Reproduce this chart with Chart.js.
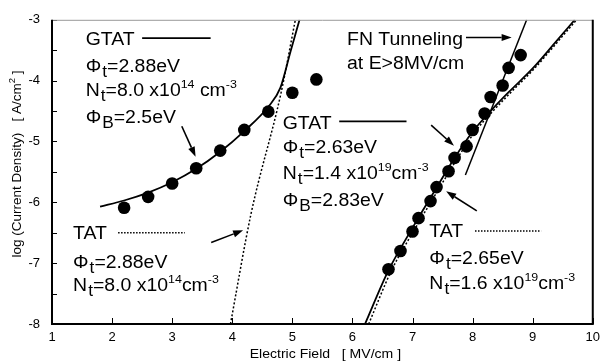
<!DOCTYPE html>
<html>
<head>
<meta charset="utf-8">
<script src="https://cdn.jsdelivr.net/npm/chart.js@4.4.0/dist/chart.umd.min.js"></script>
<style>
  body { margin: 0; background: #fff; }
  #wrap { width: 606px; height: 362px; }
</style>
</head>
<body>
<div id="wrap"><canvas id="jeChart" width="606" height="362"></canvas></div>
<script>
// tick labels
const xTicks = [1, 2, 3, 4, 5, 6, 7, 8, 9, 10];
const yTicks = [-8, -7, -6, -5, -4, -3];

// measured points, low field branch
const lowE = [2.2, 2.6, 3.0, 3.4, 3.8, 4.2, 4.6, 5.0, 5.4];
const lowJ = [-6.09, -5.91, -5.69, -5.44, -5.15, -4.81, -4.51, -4.20, -3.98];

// measured points, high field branch
const highE = [6.6, 6.8, 7.0, 7.1, 7.3, 7.4, 7.6, 7.7, 7.9, 8.0, 8.2, 8.3, 8.5, 8.6, 8.8];
const highJ = [-7.10, -6.80, -6.48, -6.26, -5.98, -5.75, -5.49, -5.27, -5.08, -4.81, -4.54, -4.27, -4.08, -3.79, -3.58];

// GTAT fit, left
const gtatLowE = [1.8, 2.2, 2.6, 3.0, 3.4, 3.8, 4.2, 4.6, 4.8, 4.97, 5.12];
const gtatLowJ = [-6.07, -5.97, -5.84, -5.67, -5.45, -5.17, -4.83, -4.43, -4.12, -3.52, -3.0];

// TAT fit, left
const tatLowE = [3.97, 4.31, 4.81, 5.05];
const tatLowJ = [-8.0, -6.2, -4.21, -3.0];

// GTAT fit, right
const gtatHighE = [6.21, 6.6, 7.0, 7.4, 7.72, 8.0, 8.3, 8.6, 9.0, 9.37, 9.70];
const gtatHighJ = [-8.0, -7.12, -6.42, -5.76, -5.24, -4.84, -4.50, -4.19, -3.80, -3.38, -3.0];

// TAT fit, right
const tatHighE = [6.27, 6.65, 7.05, 7.45, 7.77, 8.04, 8.34, 8.64, 9.03, 9.4, 9.73];
const tatHighJ = [-8.0, -7.12, -6.42, -5.76, -5.24, -4.84, -4.50, -4.19, -3.80, -3.38, -3.0];

// FN tunneling line
const fnE = [7.88, 8.90];
const fnJ = [-5.55, -3.0];

function pts(xs, ys) {
    return xs.map((x, i) => ({ x: x, y: ys[i] }));
}

// annotation text blocks (anchor = left edge / cap centre, data coords)
const notes = [
    { x: 1.56, y: -3.30, parts: [['GTAT', 'n']] },
    { x: 1.56, y: -3.75, parts: [['\u03A6', 'n'], ['t', 'sub'], ['=2.88eV', 'n']] },
    { x: 1.56, y: -4.15, parts: [['N', 'n'], ['t', 'sub'], ['=8.0 x10', 'n'], ['14', 'sup'], [' cm', 'n'], ['-3', 'sup']] },
    { x: 1.56, y: -4.59, parts: [['\u03A6', 'n'], ['B', 'sub'], ['=2.5eV', 'n']] },

    { x: 1.35, y: -6.50, parts: [['TAT', 'n']] },
    { x: 1.35, y: -6.97, parts: [['\u03A6', 'n'], ['t', 'sub'], ['=2.88eV', 'n']] },
    { x: 1.35, y: -7.35, parts: [['N', 'n'], ['t', 'sub'], ['=8.0 x10', 'n'], ['14', 'sup'], ['cm', 'n'], ['-3', 'sup']] },

    { x: 4.84, y: -4.68, parts: [['GTAT', 'n']] },
    { x: 4.84, y: -5.09, parts: [['\u03A6', 'n'], ['t', 'sub'], ['=2.63eV', 'n']] },
    { x: 4.84, y: -5.51, parts: [['N', 'n'], ['t', 'sub'], ['=1.4 x10', 'n'], ['19', 'sup'], ['cm', 'n'], ['-3', 'sup']] },
    { x: 4.84, y: -5.96, parts: [['\u03A6', 'n'], ['B', 'sub'], ['=2.83eV', 'n']] },

    { x: 5.91, y: -3.30, parts: [['FN Tunneling', 'n']] },
    { x: 5.91, y: -3.70, parts: [['at E>8MV/cm', 'n']] },

    { x: 7.28, y: -6.47, parts: [['TAT', 'n']] },
    { x: 7.28, y: -6.90, parts: [['\u03A6', 'n'], ['t', 'sub'], ['=2.65eV', 'n']] },
    { x: 7.28, y: -7.32, parts: [['N', 'n'], ['t', 'sub'], ['=1.6 x10', 'n'], ['19', 'sup'], ['cm', 'n'], ['-3', 'sup']] }
];

// legend sample lines [x0, x1, y, dashed]
const keyLines = [
    [2.50, 3.64, -3.30, false],
    [2.10, 3.21, -6.50, true],
    [5.78, 6.90, -4.67, false],
    [8.04, 9.14, -6.47, true]
];

// arrows [fromX, fromY, toX, toY]
const arrows = [
    [3.16, -4.75, 3.39, -5.25],
    [3.65, -6.66, 4.18, -6.46],
    [7.89, -3.29, 8.65, -3.29],
    [7.31, -4.73, 7.69, -5.07],
    [8.07, -6.14, 7.56, -5.82]
];

const FONT = '"Liberation Sans", Arial, sans-serif';
const STRETCH = 1.08;

function drawRich(ctx, x, y, parts) {
    ctx.save();
    ctx.translate(x, y);
    ctx.scale(STRETCH, 1);
    ctx.textBaseline = 'alphabetic';
    ctx.textAlign = 'left';
    let cx = 0;
    parts.forEach(([s, kind]) => {
        let size = 18, dy = 0;
        if (kind === 'sub') { size = 16; dy = 5; cx += 1; }
        if (kind === 'sup') { size = 11.5; dy = -8; }
        ctx.font = size + 'px ' + FONT;
        ctx.fillText(s, cx, dy);
        cx += ctx.measureText(s).width;
    });
    ctx.restore();
}

function drawArrow(ctx, x0, y0, x1, y1) {
    const a = Math.atan2(y1 - y0, x1 - x0);
    const len = 10, w = 3.5;
    const bx = x1 - len * Math.cos(a), by = y1 - len * Math.sin(a);
    ctx.beginPath();
    ctx.moveTo(x0, y0);
    ctx.lineTo(bx, by);
    ctx.lineWidth = 1.6;
    ctx.stroke();
    ctx.beginPath();
    ctx.moveTo(x1, y1);
    ctx.lineTo(bx + w * Math.sin(a), by - w * Math.cos(a));
    ctx.lineTo(bx - w * Math.sin(a), by + w * Math.cos(a));
    ctx.closePath();
    ctx.fill();
}

const overlay = {
    id: 'overlay',
    afterDraw(chart) {
        const ctx = chart.ctx;
        const xs = chart.scales.x, ys = chart.scales.y;
        const area = chart.chartArea;
        ctx.save();
        ctx.fillStyle = '#000';
        ctx.strokeStyle = '#000';

        // inward ticks
        ctx.lineWidth = 1;
        xTicks.forEach(v => {
            const px = Math.round(xs.getPixelForValue(v)) + 0.5;
            ctx.beginPath();
            ctx.moveTo(px, area.bottom);
            ctx.lineTo(px, area.bottom - 6);
            ctx.stroke();
        });
        for (let v = yTicks[0]; v <= yTicks[yTicks.length - 1]; v += 0.5) {
            const py = Math.round(ys.getPixelForValue(v)) + 0.5;
            ctx.beginPath();
            ctx.moveTo(area.left, py);
            ctx.lineTo(area.left + 5, py);
            ctx.stroke();
        }

        // frame
        ctx.strokeStyle = '#999';
        ctx.lineWidth = 1;
        ctx.beginPath();
        ctx.moveTo(area.left, area.top + 0.5);
        ctx.lineTo(area.right, area.top + 0.5);
        ctx.stroke();
        ctx.strokeStyle = '#000';
        ctx.lineWidth = 2;
        ctx.beginPath();
        ctx.moveTo(area.left, area.top);
        ctx.lineTo(area.left, area.bottom);
        ctx.lineTo(area.right, area.bottom);
        ctx.lineTo(area.right, area.top);
        ctx.stroke();

        // key lines
        keyLines.forEach(([a, b, y, dashed]) => {
            const py = ys.getPixelForValue(y);
            ctx.beginPath();
            ctx.setLineDash(dashed ? [1.5, 1.5] : []);
            ctx.lineWidth = dashed ? 1.5 : 1.8;
            ctx.moveTo(xs.getPixelForValue(a), py);
            ctx.lineTo(xs.getPixelForValue(b), py);
            ctx.stroke();
        });
        ctx.setLineDash([]);

        arrows.forEach(([a, b, c, d]) => {
            drawArrow(ctx, xs.getPixelForValue(a), ys.getPixelForValue(b),
                xs.getPixelForValue(c), ys.getPixelForValue(d));
        });

        notes.forEach(n => {
            drawRich(ctx, xs.getPixelForValue(n.x), ys.getPixelForValue(n.y) + 6.5, n.parts);
        });

        // axis titles
        ctx.textAlign = 'center';
        ctx.textBaseline = 'middle';
        ctx.save();
        ctx.translate((area.left + area.right) / 2 + 3, 354);
        ctx.scale(1.08, 1);
        ctx.font = '13px ' + FONT;
        ctx.fillText('Electric Field   [ MV/cm ]', 0, 0);
        ctx.restore();

        ctx.save();
        ctx.translate(17, 164);
        ctx.rotate(-Math.PI / 2);
        ctx.font = '13.5px ' + FONT;
        const main = 'log (Current Density)   [ A/cm';
        const wMain = ctx.measureText(main).width;
        ctx.font = '9.5px ' + FONT;
        const wSup = ctx.measureText('2').width;
        ctx.font = '13.5px ' + FONT;
        const wEnd = ctx.measureText(' ]').width;
        let cx = -(wMain + wSup + wEnd) / 2;
        ctx.textAlign = 'left';
        ctx.fillText(main, cx, 0);
        cx += wMain;
        ctx.font = '9.5px ' + FONT;
        ctx.fillText('2', cx, -5);
        cx += wSup;
        ctx.font = '13.5px ' + FONT;
        ctx.fillText(' ]', cx, 0);
        ctx.restore();

        ctx.restore();
    }
};

function curve(xs, ys, dashed, width) {
    return {
        data: pts(xs, ys),
        showLine: true,
        pointRadius: 0,
        borderColor: '#000',
        borderWidth: width,
        borderDash: dashed ? [2, 2] : [],
        cubicInterpolationMode: 'monotone',
        order: 2
    };
}

new Chart(document.getElementById('jeChart'), {
    type: 'scatter',
    data: {
        datasets: [
            {
                data: pts(lowE, lowJ),
                pointRadius: 6.3,
                pointBackgroundColor: '#000',
                pointBorderWidth: 0,
                order: 1
            },
            {
                data: pts(highE, highJ),
                pointRadius: 6.3,
                pointBackgroundColor: '#000',
                pointBorderWidth: 0,
                order: 1
            },
            curve(gtatLowE, gtatLowJ, false, 1.8),
            curve(tatLowE, tatLowJ, true, 1.5),
            curve(gtatHighE, gtatHighJ, false, 1.8),
            curve(tatHighE, tatHighJ, true, 1.5),
            curve(fnE, fnJ, false, 1.5)
        ]
    },
    options: {
        responsive: false,
        animation: false,
        layout: { padding: { top: 15, right: 8, left: 0, bottom: 0 } },
        plugins: {
            legend: { display: false },
            tooltip: { enabled: false }
        },
        scales: {
            x: {
                type: 'linear',
                min: 1,
                max: 10,
                grid: { display: false, drawTicks: false },
                border: { display: false },
                afterBuildTicks: s => { s.ticks = xTicks.map(v => ({ value: v })); },
                afterFit: s => { s.height = 38; },
                ticks: { color: '#000', padding: 6, font: { family: FONT, size: 13 }, maxRotation: 0 }
            },
            y: {
                type: 'linear',
                min: -8,
                max: -3,
                grid: { display: false, drawTicks: false },
                border: { display: false },
                afterBuildTicks: s => { s.ticks = yTicks.map(v => ({ value: v })); },
                afterFit: s => { s.width = 52; },
                ticks: { color: '#000', padding: 12, font: { family: FONT, size: 13 } }
            }
        }
    },
    plugins: [overlay]
});
</script>
</body>
</html>
